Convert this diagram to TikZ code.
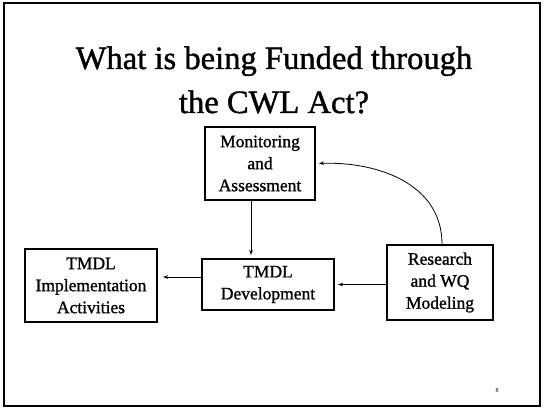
\documentclass[tikz,border=0pt]{standalone}
\usepackage{fontspec}
\setmainfont{Liberation Serif}
\newfontfamily\heavyserif[FakeBold=1.2]{Liberation Serif}
\usetikzlibrary{arrows.meta}
\begin{document}
\begin{tikzpicture}[x=1pt,y=-1pt,
  box/.style={draw=black, line width=2pt, align=center, inner sep=0pt,
    font=\heavyserif\fontsize{17.5}{22}\selectfont},
  arr/.style={line width=0.8pt, -{Stealth[length=5pt,width=3.6pt]}},
  titlefont/.style={font=\heavyserif\fontsize{32.6}{44}\selectfont, inner sep=0pt, align=center}]
\useasboundingbox (0,0) rectangle (545,409);
\draw[line width=1.8pt] (4,3) rectangle (540,406);
\node[titlefont, anchor=base] (title) at (274,113) {What is being Funded through\\the CWL Act?};
\node[box, minimum width=110pt, minimum height=73pt] (mon) at (260,163.5) {Monitoring\\and\\Assessment};
\node[box, minimum width=132pt, minimum height=73pt] (impl) at (91,285.5) {TMDL\\Implementation\\Activities};
\node[box, minimum width=132pt, minimum height=51pt] (dev) at (268,284.5) {TMDL\\Development};
\node[box, minimum width=106pt, minimum height=75pt] (res) at (440,282.5) {Research\\and WQ\\Modeling};
\node[font=\fontsize{6}{7}\selectfont, inner sep=0pt] (pg) at (497,391) {8};
\draw[arr, shorten >=3pt] ([xshift=-9pt]mon.south) -- ([xshift=-9pt]mon.south |- dev.north);
\draw[arr, shorten >=3pt] (res.west |- dev.east) -- (dev.east);
\draw[arr, shorten >=5pt] ([yshift=7.5pt]dev.west) -- ([yshift=7.5pt]dev.west -| impl.east);
\draw[arr, shorten >=3pt] ([xshift=2pt]res.north) .. controls +(0,-60) and +(62,-2) .. (mon.east);
\end{tikzpicture}
\end{document}
